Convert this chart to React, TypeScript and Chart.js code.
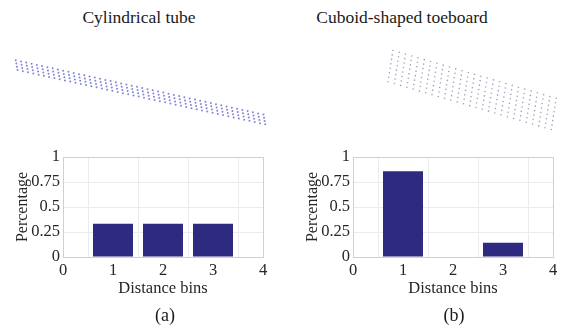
import React, { useEffect, useRef } from "react";
import { Chart, registerables } from "chart.js";

Chart.register(...registerables);

// ---- bar chart data ----
const binPositions = [1, 2, 3];
const tubeShares = [0.333, 0.333, 0.333];
const toeboardShares = [0.857, 0, 0.143];
const xTickValues = [0, 1, 2, 3, 4];
const yTickValues = [0, 0.25, 0.5, 0.75, 1];

// ---- point cloud samples ----
// cylindrical tube: sample stations along the axis, and rows across the surface
const tubeStations = [
  0, 1, 2, 3, 4, 5, 6, 7, 8, 9, 10, 11, 12, 13, 14, 15, 16, 17, 18, 19, 20, 21, 22, 23,
  24, 25, 26, 27, 28, 29, 30, 31, 32, 33, 34, 35, 36, 37, 38, 39, 40, 41, 42, 43, 44, 45, 46, 47,
];
const tubeRows = [-1.5, -0.5, 0.5, 1.5];
// toeboard: grid of sample columns × rows on the board face
const boardColumns = [
  0, 1, 2, 3, 4, 5, 6, 7, 8, 9, 10, 11, 12, 13, 14, 15, 16, 17, 18, 19, 20, 21, 22, 23, 24, 25, 26,
];
const boardRows = [0, 1, 2, 3, 4, 5, 6, 7];

// scene geometry (scene units, viewed from above)
const tubeAxisStart = { x: 13, y: 23 };
const tubeAxisEnd = { x: 268, y: 82 };
const tubeRowSpacing = 3.3;
const tubeRowSkew = 1.4;
const boardCorner = { x: 109, y: 7 };
const boardLengthEdge = { x: 168, y: 52 };
const boardWidthEdge = { x: -5, y: 34 };

const FONT = '"Liberation Serif", "Times New Roman", serif';

function tubePoints() {
  const dx = tubeAxisEnd.x - tubeAxisStart.x;
  const dy = tubeAxisEnd.y - tubeAxisStart.y;
  const len = Math.hypot(dx, dy);
  const ux = dx / len, uy = dy / len;
  const nx = -uy, ny = ux;
  const step = len / (tubeStations.length - 1);
  const pts: { x: number; y: number }[] = [];
  for (const s of tubeStations) {
    for (const r of tubeRows) {
      const a = s * step + r * tubeRowSkew;
      const b = r * tubeRowSpacing;
      pts.push({ x: tubeAxisStart.x + ux * a + nx * b, y: tubeAxisStart.y + uy * a + ny * b });
    }
  }
  return pts;
}

function boardPoints() {
  const nc = boardColumns.length - 1;
  const nr = boardRows.length - 1;
  const pts: { x: number; y: number }[] = [];
  for (const c of boardColumns) {
    for (const r of boardRows) {
      pts.push({
        x: boardCorner.x + (boardLengthEdge.x * c) / nc + (boardWidthEdge.x * r) / nr,
        y: boardCorner.y + (boardLengthEdge.y * c) / nc + (boardWidthEdge.y * r) / nr,
      });
    }
  }
  return pts;
}

const boxPlugin = {
  id: "plotBox",
  afterDraw(chart: any) {
    const { ctx, chartArea } = chart;
    ctx.save();
    ctx.strokeStyle = "#d0d0d0";
    ctx.lineWidth = 1;
    ctx.strokeRect(
      Math.round(chartArea.left) + 0.5,
      Math.round(chartArea.top) + 0.5,
      Math.round(chartArea.right - chartArea.left),
      Math.round(chartArea.bottom - chartArea.top)
    );
    ctx.restore();
  },
};

function CloudChart(props: { width: number; height: number; points: { x: number; y: number }[]; color: string; radius: number }) {
  const ref = useRef<HTMLCanvasElement>(null);
  useEffect(() => {
    const chart = new Chart(ref.current!, {
      type: "scatter",
      data: {
        datasets: [
          {
            data: props.points,
            pointRadius: props.radius,
            pointBackgroundColor: props.color,
            pointBorderWidth: 0,
          },
        ],
      },
      options: {
        animation: false,
        responsive: false,
        layout: { padding: 0 },
        plugins: { legend: { display: false }, tooltip: { enabled: false } },
        scales: {
          x: { type: "linear", min: 0, max: props.width, display: false },
          y: { type: "linear", min: 0, max: props.height, reverse: true, display: false },
        },
      },
    } as any);
    return () => chart.destroy();
  }, []);
  return <canvas ref={ref} width={props.width} height={props.height} style={{ width: props.width, height: props.height }} />;
}

function BinChart(props: { shares: number[] }) {
  const ref = useRef<HTMLCanvasElement>(null);
  useEffect(() => {
    const chart = new Chart(ref.current!, {
      type: "bar",
      data: {
        datasets: [
          {
            data: binPositions.map((x, i) => ({ x, y: props.shares[i] })),
            backgroundColor: "#2e2a7f",
            borderWidth: 0,
            barPercentage: 1,
            categoryPercentage: 0.8,
          },
        ],
      },
      options: {
        animation: false,
        responsive: false,
        layout: { padding: { top: 17, right: 20, left: 0, bottom: 26 } },
        plugins: { legend: { display: false }, tooltip: { enabled: false } },
        scales: {
          x: {
            type: "linear",
            min: xTickValues[0],
            max: xTickValues[xTickValues.length - 1],
            offset: false,
            afterBuildTicks: (s: any) => {
              s.ticks = xTickValues.map((v) => ({ value: v }));
            },
            ticks: { color: "#262626", font: { family: FONT, size: 16.5 }, padding: 4, callback: (v: any) => String(v) },
            grid: { color: "#ebebeb", drawTicks: false },
            border: { color: "#d0d0d0" },
            title: { display: true, text: "Distance bins", color: "#262626", font: { family: FONT, size: 16.5 }, padding: { top: 0, bottom: 0 } },
            afterFit: (s: any) => {
              s.height = 42;
            },
          },
          y: {
            type: "linear",
            min: 0,
            max: 1,
            afterBuildTicks: (s: any) => {
              s.ticks = yTickValues.map((v) => ({ value: v }));
            },
            ticks: { color: "#262626", font: { family: FONT, size: 16.5 }, padding: 3, callback: (v: any) => String(v) },
            grid: { color: "#ebebeb", drawTicks: false },
            border: { color: "#d0d0d0" },
            title: { display: true, text: "Percentage", color: "#262626", font: { family: FONT, size: 16 }, padding: { top: 13, bottom: 0 } },
            afterFit: (s: any) => {
              s.width = 63;
            },
          },
        },
      },
      plugins: [boxPlugin],
    } as any);
    return () => chart.destroy();
  }, []);
  return <canvas ref={ref} width={283} height={185} style={{ width: 283, height: 185 }} />;
}

const textStyle = (x: number, y: number, size: number): React.CSSProperties => ({
  position: "absolute",
  left: x,
  top: y,
  transform: "translate(-50%, -50%)",
  whiteSpace: "nowrap",
  fontFamily: FONT,
  fontSize: size,
  color: "#1a1a1a",
  lineHeight: 1,
});

export default function App() {
  return (
    <div style={{ position: "absolute", left: 0, top: 0, width: 566, height: 325, background: "#fff", overflow: "hidden" }}>
      <div style={textStyle(139, 18, 17.5)}>Cylindrical tube</div>
      <div style={textStyle(402, 18, 17.5)}>Cuboid-shaped toeboard</div>
      <div style={{ position: "absolute", left: 0, top: 40 }}>
        <CloudChart width={280} height={100} points={tubePoints()} color="rgba(80,80,200,0.7)" radius={1} />
      </div>
      <div style={{ position: "absolute", left: 283, top: 40 }}>
        <CloudChart width={283} height={100} points={boardPoints()} color="rgba(130,130,165,0.75)" radius={0.8} />
      </div>
      <div style={{ position: "absolute", left: 0, top: 140 }}>
        <BinChart shares={tubeShares} />
      </div>
      <div style={{ position: "absolute", left: 290, top: 140 }}>
        <BinChart shares={toeboardShares} />
      </div>
      <div style={textStyle(165, 315, 18)}>(a)</div>
      <div style={textStyle(454, 315, 18)}>(b)</div>
    </div>
  );
}
